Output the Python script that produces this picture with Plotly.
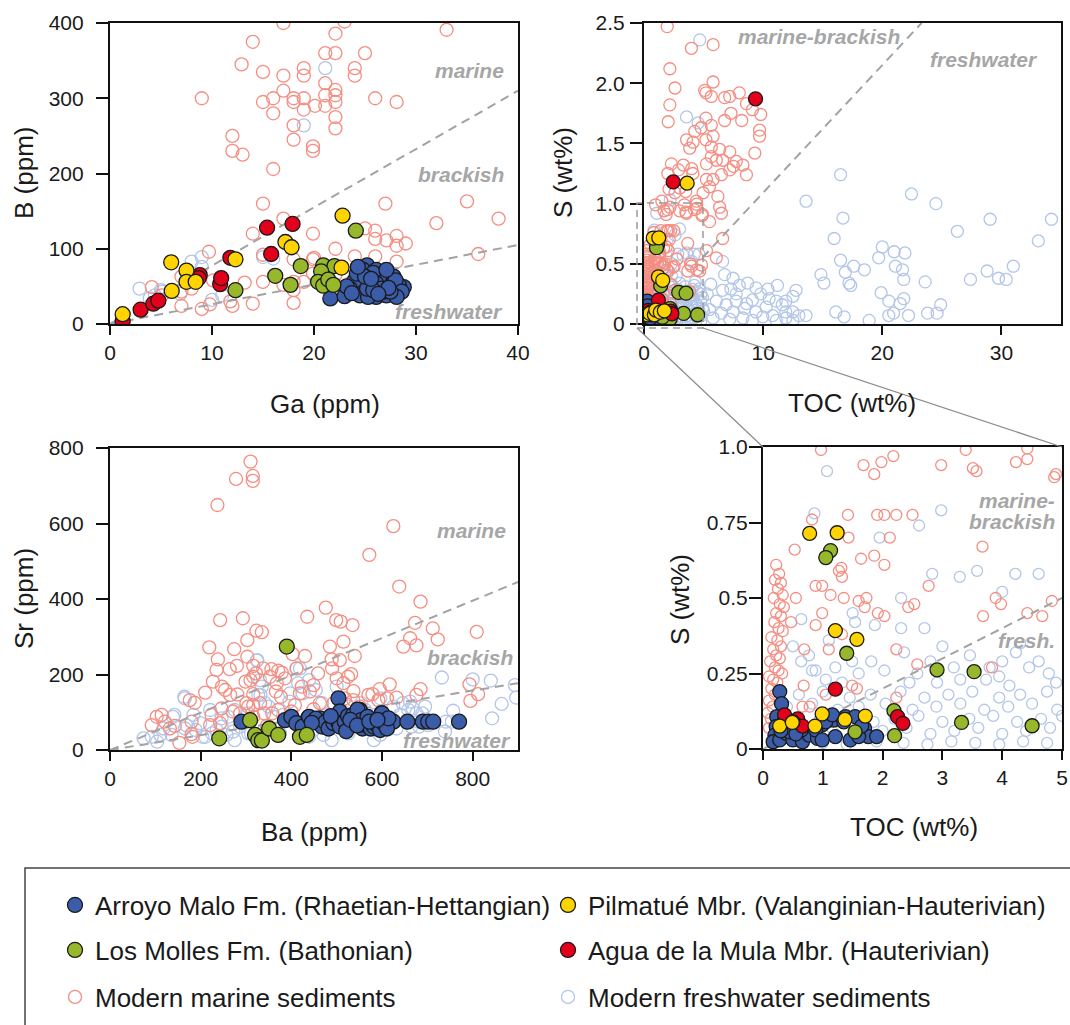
import plotly.graph_objects as go

W, H = 1070, 1025


def fx(px):
    return px / W


def fy(py):
    return 1 - py / H


# ------------------------------------------------------------------
# DATA  ((x, y) pairs)
# ------------------------------------------------------------------
# Panel A : B (ppm) vs Ga (ppm)
gab_marine = [(17.0, 400), (23.0, 402), (33.0, 391), (14.0, 375), (22.1, 386), (21.1, 360), (22.1, 360),
              (25.0, 360), (12.9, 345), (15.0, 335), (17.0, 330), (19.0, 340), (19.0, 330), (24.0, 340),
              (24.0, 330), (21.1, 320), (9.0, 300), (15.0, 295), (16.0, 300), (17.0, 310), (18.0, 300),
              (18.0, 295), (19.0, 300), (19.0, 285), (20.1, 290), (21.1, 304), (21.1, 290), (22.1, 311),
              (22.1, 304), (22.1, 295), (26.0, 300), (28.1, 295), (16.0, 280), (18.0, 264), (22.1, 275),
              (22.1, 260), (18.0, 245), (19.9, 236), (19.9, 230), (12.0, 250), (12.0, 230), (13.0, 225),
              (16.0, 206), (15.0, 160), (27.0, 160), (35.0, 163), (32.0, 134), (38.1, 140), (17.0, 140),
              (14.0, 120), (19.9, 120), (25.0, 127), (26.0, 124), (26.0, 113), (27.1, 111), (28.1, 117),
              (28.1, 104), (29.0, 107), (22.1, 100), (24.0, 90), (26.0, 90), (36.1, 93), (9.7, 96),
              (15.0, 92), (18.0, 86), (19.9, 86), (28.1, 83), (19.9, 67), (22.1, 65), (7.0, 63), (8.0, 63),
              (7.0, 43), (8.0, 47), (4.1, 49), (10.1, 58), (15.0, 56), (18.0, 56), (18.0, 45), (19.0, 56),
              (7.0, 24), (9.0, 20), (9.8, 26), (12.0, 24), (14.0, 27), (18.0, 28), (5.1, 38), (17.0, 52),
              (20.0, 88), (11.8, 30), (13.2, 55)]
gab_fresh = [(21.1, 340), (19.0, 264), (2.9, 47), (8.0, 83), (9.0, 89), (9.0, 76), (5.1, 43), (3.9, 34),
             (10.0, 32), (11.0, 38), (16.0, 87), (15.0, 89), (4.4, 38), (6.9, 40), (5.0, 45)]
gab_arroyo = [(21.6, 34), (23.0, 37), (25.2, 78), (26.1, 72), (24.8, 58), (24.2, 45), (25.5, 52),
              (26.8, 58), (27.8, 63), (26.1, 36), (27.1, 38), (28.1, 43), (28.8, 49), (28.4, 47),
              (28.3, 52), (24.8, 72), (25.8, 68), (24.0, 58), (23.5, 47), (24.5, 38), (25.3, 36),
              (26.8, 43), (27.6, 52), (28.0, 58), (28.6, 43), (26.1, 54), (27.1, 72), (24.2, 67),
              (25.2, 47), (23.2, 50), (25.0, 63), (26.6, 47), (28.1, 36), (23.7, 41), (25.8, 45),
              (27.5, 43), (24.3, 76), (25.6, 60), (27.3, 48), (26.3, 40)]
gab_molles = [(12.3, 45), (16.2, 64), (17.7, 52), (18.7, 77), (20.9, 78), (22.0, 77), (20.7, 70),
              (20.4, 56), (20.9, 51), (24.1, 124), (21.4, 59), (21.9, 52)]
gab_pilmatue = [(1.24, 13), (6.0, 82), (6.05, 44), (7.5, 71), (7.5, 56), (8.4, 56), (12.3, 86),
                (17.2, 109), (17.8, 102), (22.8, 144), (22.7, 75)]
gab_mula = [(1.24, 4), (3.0, 19), (4.25, 27), (4.74, 31), (8.8, 65), (8.7, 61), (11.8, 88), (10.8, 53),
            (10.9, 61), (15.4, 128), (17.9, 133), (15.8, 93)]

# Panel B / C : S (wt%) vs TOC (wt%)  (same data, full view and 0-5 zoom)
st_marine = [(1.95, 2.47), (3.98, 2.29), (5.8, 2.32), (2.17, 2.12), (2.6, 1.96), (2.17, 1.82), (2.03, 1.68),
             (5.1, 1.94), (5.8, 2.01), (5.2, 1.92), (5.65, 1.89), (6.77, 1.88), (7.19, 1.89), (8.0, 1.92),
             (8.6, 1.83), (7.3, 1.75), (8.2, 1.69), (9.1, 1.78), (9.8, 1.74), (9.7, 1.61), (9.7, 1.56),
             (9.3, 1.42), (6.77, 1.69), (5.2, 1.71), (5.65, 1.65), (4.8, 1.63), (4.26, 1.60), (3.57, 1.53),
             (4.12, 1.51), (3.84, 1.46), (5.2, 1.53), (5.8, 1.56), (5.65, 1.47), (6.35, 1.45), (7.2, 1.43),
             (6.6, 1.36), (7.75, 1.35), (8.3, 1.32), (8.6, 1.24), (7.2, 1.28), (7.5, 1.31), (5.24, 1.33),
             (5.65, 1.39), (6.07, 1.36), (6.5, 1.24), (5.8, 1.20), (5.24, 1.20), (5.5, 1.14), (4.96, 1.09),
             (6.2, 1.06), (6.35, 0.97), (6.5, 0.92), (5.5, 0.85), (6.6, 0.71), (5.24, 0.61), (6.07, 0.55),
             (2.3, 1.33), (2.0, 1.25), (3.3, 1.32), (4.0, 1.29), (4.1, 1.25), (2.6, 1.09), (3.0, 1.13),
             (3.5, 1.10), (4.4, 1.02), (1.5, 1.02), (2.9, 1.28), (2.1, 1.12),
             (0.97, 0.99), (1.68, 0.94), (1.86, 0.91), (1.98, 0.95), (2.18, 0.97), (2.98, 0.94), (3.51, 0.93),
             (3.57, 0.92), (3.39, 0.99), (4.23, 0.95), (4.42, 0.96), (4.42, 0.995), (4.87, 0.90), (0.82, 0.76),
             (1.42, 0.775), (1.91, 0.775), (2.03, 0.775), (2.23, 0.775), (2.5, 0.775), (1.43, 0.70),
             (2.12, 0.70), (0.53, 0.66), (1.64, 0.63), (1.86, 0.64), (2.03, 0.61), (3.67, 0.67), (1.31, 0.60),
             (0.88, 0.54), (0.99, 0.54), (1.13, 0.51), (1.27, 0.59), (1.32, 0.57), (1.35, 0.50), (1.6, 0.49),
             (1.73, 0.50), (1.7, 0.47), (2.03, 0.44), (2.43, 0.47), (2.53, 0.48), (2.77, 0.54), (0.55, 0.50),
             (0.99, 0.45), (0.88, 0.41), (1.1, 0.33), (1.32, 0.38), (0.69, 0.33), (1.92, 0.45), (2.58, 0.28),
             (2.23, 0.33), (0.68, 0.21), (1.49, 0.21), (3.68, 0.44), (3.89, 0.50), (3.98, 0.48), (4.42, 0.45),
             (4.67, 0.44), (4.83, 0.49), (3.83, 0.27), (4.9, 0.91), (2.23, 0.17), (0.78, 0.14), (0.47, 0.42),
             (1.05, 0.18), (1.57, 0.20), (0.66, 0.14),
             (0.22, 0.61), (0.27, 0.58), (0.20, 0.56), (0.30, 0.55), (0.25, 0.53), (0.33, 0.51), (0.18, 0.50),
             (0.28, 0.48), (0.35, 0.47), (0.22, 0.45), (0.30, 0.44), (0.19, 0.42), (0.26, 0.40), (0.33, 0.39),
             (0.14, 0.37), (0.24, 0.36), (0.30, 0.34), (0.17, 0.33), (0.22, 0.31), (0.28, 0.30), (0.12, 0.29),
             (0.20, 0.27), (0.26, 0.26), (0.32, 0.25), (0.10, 0.24), (0.17, 0.23), (0.24, 0.22), (0.14, 0.20),
             (0.20, 0.18), (0.10, 0.16), (0.16, 0.14), (0.08, 0.12), (0.13, 0.10), (0.10, 0.07)]
st_fresh = [(4.68, 2.36), (3.57, 1.72), (4.54, 1.67), (16.5, 1.24), (13.6, 1.02), (22.45, 1.08), (24.5, 1.00),
            (16.7, 0.88), (26.3, 0.77), (29.05, 0.87), (34.2, 0.87), (33.1, 0.69), (15.96, 0.71), (16.5, 0.53),
            (16.9, 0.43), (17.6, 0.48), (18.5, 0.45), (19.7, 0.55), (20.0, 0.64), (21.0, 0.60), (21.9, 0.59),
            (21.1, 0.48), (21.7, 0.45), (21.8, 0.37), (14.85, 0.41), (15.1, 0.34), (17.2, 0.34), (17.35, 0.32),
            (23.6, 0.35), (27.4, 0.37), (28.8, 0.44), (29.75, 0.38), (30.4, 0.37), (31.0, 0.48), (19.9, 0.26),
            (20.55, 0.19), (21.5, 0.17), (21.8, 0.21), (24.9, 0.16), (23.8, 0.09), (24.6, 0.09), (22.2, 0.07),
            (20.55, 0.07), (20.95, 0.09), (18.9, 0.03), (16.1, 0.10), (16.8, 0.06),
            (6.6, 0.52), (6.6, 0.28), (7.3, 0.29), (7.74, 0.25), (9.4, 0.30), (11.2, 0.32), (12.76, 0.28),
            (12.5, 0.23), (11.9, 0.19), (10.5, 0.21), (11.1, 0.19), (9.1, 0.20), (8.6, 0.17), (7.74, 0.19),
            (6.9, 0.16), (6.07, 0.19), (5.5, 0.12), (6.5, 0.09), (7.47, 0.10), (8.45, 0.13), (9.4, 0.10),
            (10.25, 0.14), (10.8, 0.07), (11.6, 0.16), (12.5, 0.10), (13.0, 0.07), (11.9, 0.05), (11.1, 0.03),
            (8.3, 0.05), (7.2, 0.04), (5.8, 0.05), (6.77, 0.41), (7.47, 0.38), (8.0, 0.32), (8.7, 0.34),
            (9.8, 0.25), (10.4, 0.29), (11.9, 0.10), (12.5, 0.03), (9.1, 0.03), (9.97, 0.06), (13.6, 0.07),
            (5.3, 0.25), (5.6, 0.33), (2.2, 1.03),
            (1.07, 0.92), (0.86, 0.78), (2.61, 0.74), (1.95, 0.70), (2.98, 0.79), (2.83, 0.58), (3.29, 0.57),
            (3.58, 0.59), (4.22, 0.58), (4.61, 0.58), (4.0, 0.52), (2.31, 0.50),
            (0.5, 0.34), (0.64, 0.29), (0.82, 0.26), (0.77, 0.31), (1.21, 0.27), (1.49, 0.29), (1.81, 0.29),
            (1.6, 0.25), (2.03, 0.26), (2.36, 0.32), (2.58, 0.25), (2.8, 0.29), (3.19, 0.27), (3.46, 0.31),
            (3.79, 0.27), (4.0, 0.29), (4.23, 0.32), (4.45, 0.27), (4.61, 0.29), (4.78, 0.25), (3.3, 0.23),
            (2.91, 0.22), (4.12, 0.21), (3.73, 0.23), (1.32, 0.22), (0.88, 0.26), (0.64, 0.43), (1.54, 0.42),
            (1.87, 0.41), (2.31, 0.40), (1.1, 0.36), (3.0, 0.34), (4.3, 0.35), (2.7, 0.40), (1.5, 0.45),
            (0.6, 0.18), (1.0, 0.19), (1.45, 0.17), (1.8, 0.18), (2.3, 0.19), (2.7, 0.17), (3.1, 0.18),
            (3.5, 0.19), (3.95, 0.17), (4.3, 0.18), (4.75, 0.19),
            (0.4, 0.14), (0.82, 0.15), (1.25, 0.13), (1.6, 0.14), (2.05, 0.15), (2.5, 0.13), (2.9, 0.14),
            (3.3, 0.15), (3.7, 0.13), (4.1, 0.14), (4.5, 0.15), (4.92, 0.13),
            (0.95, 0.10), (1.35, 0.11), (1.85, 0.09), (2.2, 0.10), (2.6, 0.11), (3.0, 0.09), (3.45, 0.10),
            (3.85, 0.11), (4.25, 0.09), (4.65, 0.10), (5.0, 0.11),
            (0.7, 0.06), (1.15, 0.07), (1.55, 0.05), (2.0, 0.06), (2.4, 0.07), (2.8, 0.05), (3.2, 0.06),
            (3.6, 0.07), (4.0, 0.05), (4.4, 0.06), (4.8, 0.07),
            (1.0, 0.02), (1.4, 0.015), (1.9, 0.025), (2.35, 0.02), (2.75, 0.015), (3.15, 0.025), (3.55, 0.02),
            (3.95, 0.015), (4.35, 0.025), (4.75, 0.02), (2.45, 0.22), (1.05, 0.23), (3.95, 0.24), (4.9, 0.22)]
st_arroyo = [(0.28, 0.19), (0.31, 0.15), (0.23, 0.107), (0.22, 0.074), (0.20, 0.046), (0.17, 0.024),
             (0.28, 0.03), (0.39, 0.052), (0.50, 0.03), (0.66, 0.024), (0.77, 0.046), (0.91, 0.035),
             (0.99, 0.08), (1.18, 0.096), (1.21, 0.041), (1.38, 0.107), (1.54, 0.107), (1.46, 0.03),
             (1.70, 0.068), (1.76, 0.041), (1.90, 0.041), (1.60, 0.041), (0.64, 0.063), (0.42, 0.085),
             (0.44, 0.057), (0.88, 0.063), (1.05, 0.09), (1.16, 0.113), (1.35, 0.09), (1.65, 0.076),
             (0.99, 0.03), (0.30, 0.06), (0.35, 0.09), (0.55, 0.05)]
st_molles = [(1.13, 0.657), (1.05, 0.634), (1.40, 0.317), (2.91, 0.262), (3.53, 0.256), (2.19, 0.127),
             (2.20, 0.044), (3.32, 0.088), (4.50, 0.077), (1.54, 0.057)]
st_pilmatue = [(0.78, 0.714), (1.24, 0.716), (1.21, 0.392), (1.57, 0.363), (0.28, 0.076), (0.49, 0.088),
               (0.87, 0.076), (0.99, 0.116), (1.37, 0.098), (1.71, 0.109), (3.62, 1.17)]
st_mula = [(0.36, 0.113), (0.58, 0.10), (0.66, 0.076), (1.21, 0.198), (2.25, 0.107), (2.34, 0.085),
           (0.50, 0.09), (9.36, 1.87), (2.45, 1.18)]

# Panel D : Sr (ppm) vs Ba (ppm)
srba_marine = [(310, 764), (315, 726), (315, 713), (278, 718), (237, 649), (625, 593), (572, 517), (638, 433),
               (685, 393), (476, 377), (435, 353), (293, 349), (243, 344), (499, 344), (509, 340), (535, 331),
               (323, 316), (335, 312), (673, 337), (712, 322), (809, 313), (723, 293), (662, 296), (647, 274),
               (676, 277), (219, 272), (303, 291), (485, 274), (515, 287), (430, 249), (540, 249), (507, 238),
               (303, 247), (274, 267), (238, 240), (264, 214), (235, 212), (280, 223), (316, 223), (338, 216),
               (356, 214), (403, 254), (412, 216), (371, 210), (489, 240), (490, 216), (459, 203), (353, 194),
               (322, 203), (310, 185), (532, 201), (525, 194), (515, 177), (500, 190), (685, 161), (676, 146),
               (793, 174), (812, 148), (795, 130), (617, 174), (595, 161), (579, 148), (592, 132), (611, 137),
               (632, 139), (537, 156), (537, 132), (551, 115), (570, 146), (210, 152), (227, 181), (247, 168),
               (254, 159), (265, 146), (281, 147), (299, 181), (316, 194), (316, 148), (301, 124), (316, 119),
               (379, 205), (386, 190), (368, 177), (366, 155), (377, 141), (419, 150), (423, 168), (449, 172),
               (441, 155), (408, 119), (400, 102), (371, 106), (340, 97), (358, 97), (449, 108), (463, 124),
               (493, 124), (518, 137), (522, 121), (114, 93), (103, 88), (121, 75), (92, 66), (132, 57),
               (143, 64), (180, 75), (180, 42), (153, 19), (182, 35), (221, 66), (224, 93), (246, 110),
               (243, 71), (187, 125), (176, 132), (271, 102), (287, 97), (305, 115), (331, 124), (316, 88),
               (346, 64)]
srba_fresh = [(732, 192), (800, 187), (840, 184), (893, 172), (896, 139), (864, 122), (843, 84), (757, 104),
              (741, 75), (165, 137), (142, 93), (74, 31), (92, 35), (136, 40), (324, 237), (331, 185),
              (335, 168), (327, 146), (342, 124), (419, 216), (415, 177), (397, 150), (625, 115), (640, 93),
              (658, 106), (676, 97), (695, 115), (662, 128), (563, 106), (585, 93), (603, 84), (625, 79),
              (500, 168), (515, 102), (485, 79), (456, 71), (471, 40), (526, 44), (581, 53), (596, 40),
              (665, 62), (680, 75), (702, 66), (210, 35), (235, 53), (257, 40), (272, 49), (287, 62),
              (305, 44), (199, 71), (221, 106), (184, 93), (246, 84), (382, 93), (404, 75), (419, 57),
              (449, 53), (165, 57), (118, 57), (164, 141), (139, 88), (168, 66), (189, 53), (204, 35),
              (225, 44), (246, 62), (261, 88), (275, 106), (304, 97), (325, 238), (332, 146), (350, 115),
              (361, 88), (411, 216), (439, 185), (454, 159), (396, 128), (425, 150), (468, 124), (525, 115),
              (554, 124), (646, 124), (668, 110), (689, 97), (682, 62), (754, 75), (739, 49), (596, 137),
              (632, 57), (582, 26), (489, 26), (439, 35), (375, 44), (311, 44), (275, 26), (111, 40),
              (104, 22)]
srba_arroyo = [(290, 75), (386, 79), (400, 88), (437, 84), (463, 84), (504, 137), (507, 102), (551, 106),
               (625, 75), (656, 75), (690, 75), (702, 75), (713, 75), (770, 75), (599, 97), (566, 88),
               (411, 71), (425, 62), (439, 88), (454, 83), (468, 62), (475, 74), (482, 57), (493, 71),
               (504, 72), (507, 62), (518, 75), (525, 90), (532, 66), (536, 93), (546, 107), (554, 79),
               (557, 57), (561, 67), (568, 88), (575, 57), (582, 62), (589, 66), (596, 53), (600, 97),
               (604, 70), (611, 57), (614, 84), (521, 50), (487, 90), (445, 72), (530, 80), (545, 65),
               (572, 75), (590, 80)]
srba_molles = [(390, 274), (309, 79), (241, 31), (320, 40), (327, 26), (335, 25), (351, 57), (371, 40),
               (419, 35), (434, 40)]

# Discrimination lines (end points)
gab_line_marine = [(0, 0), (40, 310)]
gab_line_fresh = [(0, 0), (40, 105)]
st_line_full = [(4.9, 0.55), (23.3, 2.5)]
st_line_zoom = [(0, 0), (5, 0.5)]
srba_line_marine = [(0, 0), (900, 445)]
srba_line_fresh = [(0, 0), (900, 177)]

# Series labels
names = {
    "arroyo": "Arroyo Malo Fm. (Rhaetian-Hettangian)",
    "pilmatue": "Pilmatué Mbr. (Valanginian-Hauterivian)",
    "molles": "Los Molles Fm. (Bathonian)",
    "mula": "Agua de la Mula Mbr. (Hauterivian)",
    "marine": "Modern marine sediments",
    "fresh": "Modern freshwater sediments",
}

# ------------------------------------------------------------------
# STYLE
# ------------------------------------------------------------------
FONT = "Arial, Liberation Sans, Helvetica, sans-serif"
colors = {"arroyo": "#3B5CA8", "pilmatue": "#FFD400", "molles": "#97B82A", "mula": "#E2001A",
          "marine": "#F58E82", "fresh": "#B3C6E7"}
# one legend box per entry: (legend id, column x px, row y px)
legend_of = {"arroyo": ("legend", 55, 905), "pilmatue": ("legend2", 548, 905),
             "molles": ("legend3", 55, 950), "mula": ("legend4", 548, 950),
             "marine": ("legend5", 55, 997), "fresh": ("legend6", 548, 997)}

P4_RIGHT = 1062  # right edge (px) of the zoomed S-TOC panel


def xs(p):
    return [a for a, _ in p]


def ys(p):
    return [b for _, b in p]


fig = go.Figure()


def add_points(pts, key, xa, ya, show, fsize, osize):
    leg = legend_of[key][0]
    if key in ("marine", "fresh"):
        marker = dict(symbol="circle-open", size=osize, color=colors[key], line=dict(width=1.3))
    else:
        marker = dict(symbol="circle", size=fsize, color=colors[key], line=dict(width=1.3, color="#1a1a1a"))
    fig.add_trace(go.Scatter(x=xs(pts), y=ys(pts), mode="markers", marker=marker, name=names[key],
                             xaxis=xa, yaxis=ya, showlegend=show, legend=leg,
                             hoverinfo="x+y+name"))


def add_line(pts, xa, ya):
    fig.add_trace(go.Scatter(x=xs(pts), y=ys(pts), mode="lines", xaxis=xa, yaxis=ya, showlegend=False,
                             line=dict(color="#A3A3A3", width=2, dash="9px,6px"), hoverinfo="skip"))


panels = [
    ("x", "y", {"fresh": gab_fresh, "marine": gab_marine, "arroyo": gab_arroyo, "molles": gab_molles,
                "mula": gab_mula, "pilmatue": gab_pilmatue}, [gab_line_marine, gab_line_fresh], True, 15, 13),
    ("x2", "y2", {"fresh": st_fresh, "marine": st_marine, "arroyo": st_arroyo, "molles": st_molles,
                  "mula": st_mula, "pilmatue": st_pilmatue}, [st_line_full], False, 14, 12),
    ("x3", "y3", {"fresh": srba_fresh, "marine": srba_marine, "arroyo": srba_arroyo,
                  "molles": srba_molles}, [srba_line_marine, srba_line_fresh], False, 15, 13),
    ("x4", "y4", {"fresh": st_fresh, "marine": st_marine, "arroyo": st_arroyo, "molles": st_molles,
                  "mula": st_mula, "pilmatue": st_pilmatue}, [st_line_zoom], False, 14, 11),
]

for xa, ya, data, lines, show, fsize, osize in panels:
    for key in ("fresh", "marine"):
        add_points(data[key], key, xa, ya, show, fsize, osize)
    for ln in lines:
        add_line(ln, xa, ya)
    for key in ("arroyo", "molles", "mula", "pilmatue"):
        if key in data:
            add_points(data[key], key, xa, ya, show, fsize, osize)

# ------------------------------------------------------------------
# AXES
# ------------------------------------------------------------------
common = dict(showline=True, linewidth=2.2, linecolor="#111", mirror=True, ticks="outside",
              tickwidth=2, tickcolor="#111", showgrid=False, zeroline=False,
              tickfont=dict(family=FONT, size=21, color="#1a1a1a"), fixedrange=True)


def axis(dom, rng, vals, text=None, anchor=None, ticklen=9, standoff=0):
    d = dict(common)
    d.update(domain=dom, range=rng, tickvals=vals, anchor=anchor, ticklen=ticklen,
             ticklabelstandoff=standoff)
    if text is not None:
        d["ticktext"] = text
    return d


fig.update_layout(
    xaxis=axis([fx(110), fx(518)], [0, 40], [0, 10, 20, 30, 40], anchor="y"),
    yaxis=axis([fy(324), fy(23)], [0, 400], [0, 100, 200, 300, 400], anchor="x", ticklen=12, standoff=8),
    xaxis2=axis([fx(644), fx(1061)], [0, 35], [0, 10, 20, 30], anchor="y2"),
    yaxis2=axis([fy(324), fy(23)], [0, 2.5], [0, 0.5, 1, 1.5, 2, 2.5],
                ["0", "0.5", "1.0", "1.5", "2.0", "2.5"], anchor="x2", ticklen=12, standoff=1),
    xaxis3=axis([fx(110), fx(518)], [0, 900], [0, 200, 400, 600, 800], anchor="y3"),
    yaxis3=axis([fy(750), fy(448)], [0, 800], [0, 200, 400, 600, 800], anchor="x3", ticklen=12, standoff=8),
    xaxis4=axis([fx(763), fx(P4_RIGHT)], [0, 5], [0, 1, 2, 3, 4, 5], anchor="y4"),
    yaxis4=axis([fy(749), fy(447)], [0, 1], [0, 0.25, 0.5, 0.75, 1],
                ["0", "0.25", "0.5", "0.75", "1.0"], anchor="x4", ticklen=12, standoff=-3),
)

# ------------------------------------------------------------------
# TEXT
# ------------------------------------------------------------------
ann = []


def title(text, px, py, rot=0):
    ann.append(dict(text=text, x=fx(px), y=fy(py), xref="paper", yref="paper", showarrow=False,
                    xanchor="center", yanchor="middle", textangle=rot,
                    font=dict(family=FONT, size=26, color="#1a1a1a")))


def region(text, px, py):
    ann.append(dict(text="<b><i>%s</i></b>" % text, x=fx(px), y=fy(py), xref="paper", yref="paper",
                    showarrow=False, xanchor="right", yanchor="middle",
                    font=dict(family=FONT, size=21, color="#A6A6A6")))


title("Ga (ppm)", 325, 404)
title("B (ppm)", 24, 173, -90)
title("TOC (wt%)", 852, 403)
title("S (wt%)", 563, 173, -90)
title("Ba (ppm)", 314, 832)
title("Sr (ppm)", 24, 598, -90)
title("TOC (wt%)", 914, 827)
title("S (wt%)", 680, 600, -90)

region("marine", 506, 70)
region("brackish", 506, 174)
region("freshwater", 505, 311)
region("marine-brackish", 902, 36)
region("freshwater", 1040, 59)
region("marine", 508, 530)
region("brackish", 515, 657)
region("freshwater", 513, 740)
region("marine-", P4_RIGHT - 5, 500)
region("brackish", P4_RIGHT - 5, 521)
region("fresh.", P4_RIGHT - 5, 640)

# ------------------------------------------------------------------
# SHAPES (zoom box, connectors, legend frame)
# ------------------------------------------------------------------
shapes = [
    dict(type="rect", xref="paper", yref="paper", x0=fx(637), x1=fx(703), y0=fy(328), y1=fy(203),
         line=dict(color="#9A9A9A", width=1.5, dash="7px,5px")),
    dict(type="line", xref="paper", yref="paper", x0=fx(637), y0=fy(328), x1=fx(763), y1=fy(447),
         line=dict(color="#8C8C8C", width=1.2)),
    dict(type="line", xref="paper", yref="paper", x0=fx(703), y0=fy(328), x1=fx(P4_RIGHT), y1=fy(447),
         line=dict(color="#8C8C8C", width=1.2)),
    dict(type="rect", xref="paper", yref="paper", x0=fx(25), x1=fx(1120), y0=fy(1080), y1=fy(868),
         line=dict(color="#444", width=1.5)),
]

leg_common = dict(orientation="v", xanchor="left", yanchor="middle", bgcolor="rgba(0,0,0,0)",
                  font=dict(family=FONT, size=26, color="#1a1a1a"),
                  itemclick=False, itemdoubleclick=False)
legends = {}
for key, (lid, lx, ly) in legend_of.items():
    legends[lid] = dict(leg_common, x=fx(lx), y=fy(ly))

fig.update_layout(
    width=W, height=H, margin=dict(l=0, r=0, t=0, b=0, autoexpand=False), paper_bgcolor="white",
    plot_bgcolor="white", annotations=ann, shapes=shapes, hovermode="closest", **legends,
)

fig.write_html("out.html", config={"displayModeBar": False},
               post_script="document.body.style.margin='0';document.body.style.overflow='hidden';")
